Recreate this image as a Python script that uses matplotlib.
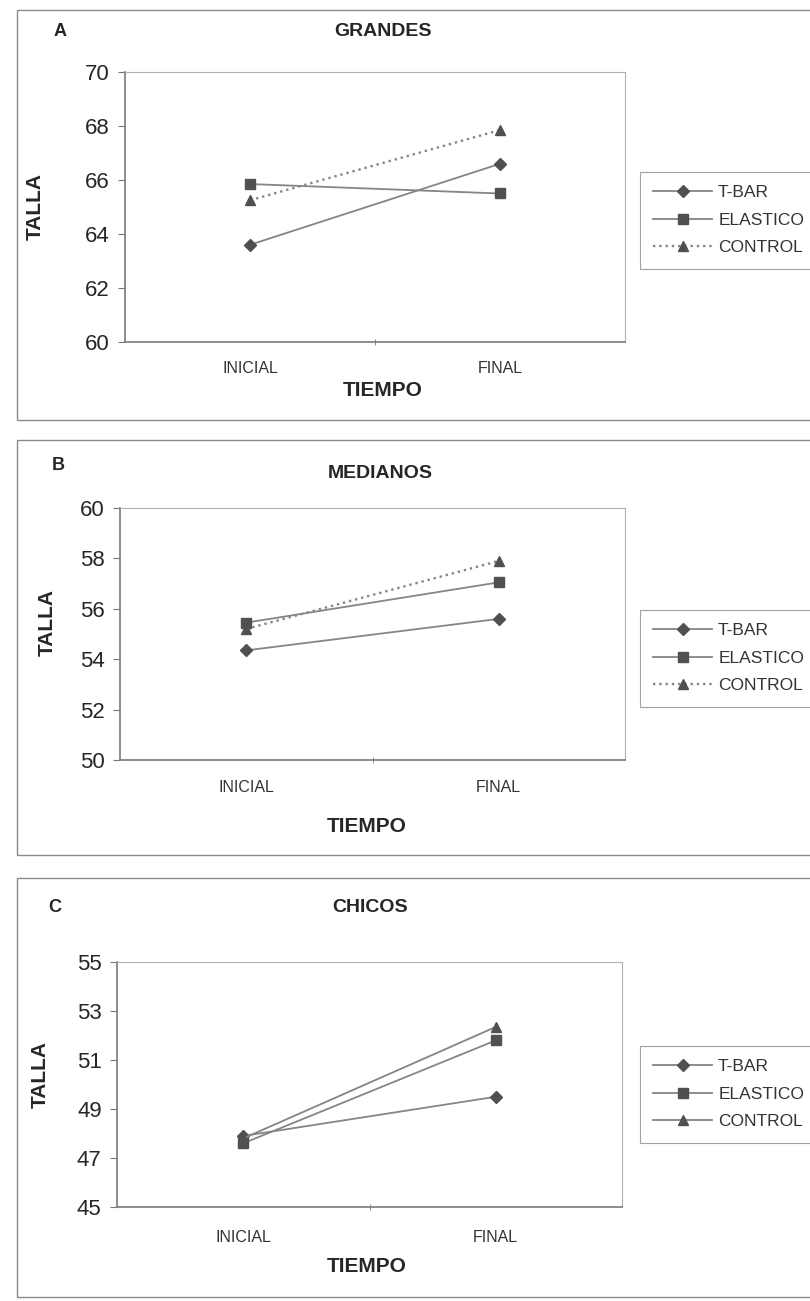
import matplotlib
matplotlib.use('Agg')
import matplotlib.pyplot as plt
from matplotlib.patches import Rectangle
from matplotlib.ticker import FixedLocator

plt.rcParams['font.family'] = ['Liberation Sans', 'DejaVu Sans']

# Data
tiempo = ['INICIAL', 'FINAL']
series_names = ['T-BAR', 'ELASTICO', 'CONTROL']

grandes_tbar = [63.6, 66.6]
grandes_elastico = [65.85, 65.5]
grandes_control = [65.25, 67.85]

medianos_tbar = [54.35, 55.6]
medianos_elastico = [55.45, 57.05]
medianos_control = [55.2, 57.9]

chicos_tbar = [47.9, 49.5]
chicos_elastico = [47.6, 51.8]
chicos_control = [47.8, 52.35]

panels = [
    dict(letter='A', title='GRANDES', ylim=(60, 70), step=2,
         values=[grandes_tbar, grandes_elastico, grandes_control], control_ls=':',
         box=(17, 10, 420), ax=(125, 72, 625, 342), legend_y=172,
         letter_xy=(60, 32), title_xy=(383, 32), talla_xy=(35, 207),
         xtick_y=368, tiempo=(383, 390)),
    dict(letter='B', title='MEDIANOS', ylim=(50, 60), step=2,
         values=[medianos_tbar, medianos_elastico, medianos_control], control_ls=':',
         box=(17, 440, 855), ax=(120, 508, 625, 760), legend_y=610,
         letter_xy=(58, 466), title_xy=(380, 473), talla_xy=(47, 622),
         xtick_y=788, tiempo=(367, 826)),
    dict(letter='C', title='CHICOS', ylim=(45, 55), step=2,
         values=[chicos_tbar, chicos_elastico, chicos_control], control_ls='-',
         box=(17, 878, 1297), ax=(117, 962, 622, 1207), legend_y=1046,
         letter_xy=(55, 908), title_xy=(370, 908), talla_xy=(40, 1075),
         xtick_y=1237, tiempo=(367, 1267)),
]

W, H = 810, 1301
fig = plt.figure(figsize=(W / 100, H / 100), dpi=100)
fig.patch.set_facecolor('white')


def fx(x):
    return x / W


def fy(y):
    return 1 - y / H


line_col = '#858585'
mark_col = '#505050'
markers = ['D', 's', '^']

for p in panels:
    # panel border (right side runs off the image)
    bx, btop, bbot = p['box']
    fig.patches.append(Rectangle((fx(bx), fy(bbot)), fx(W + 20 - bx), (bbot - btop) / H,
                                 transform=fig.transFigure, fill=False,
                                 edgecolor='#8a8a8a', linewidth=1.0))

    x0, y0, x1, y1 = p['ax']
    ax = fig.add_axes([fx(x0), fy(y1), fx(x1 - x0), (y1 - y0) / H])
    xs = list(range(len(tiempo)))
    handles = []
    for i, vals in enumerate(p['values']):
        ls = p['control_ls'] if i == 2 else '-'
        lw = 1.7 if ls == ':' else 1.3
        h, = ax.plot(xs, vals, linestyle=ls, linewidth=lw, color=line_col,
                     marker=markers[i], markersize=7 if i != 0 else 6.5,
                     markerfacecolor=mark_col, markeredgecolor=mark_col)
        handles.append(h)

    ax.set_xlim(-0.5, 1.5)
    ax.set_ylim(*p['ylim'])
    lo, hi = p['ylim']
    ax.set_yticks(list(range(lo, hi + 1, p['step'])))
    ax.set_xticks(xs)
    ax.set_xticklabels([])
    ax.xaxis.set_minor_locator(FixedLocator([0.5]))
    ax.tick_params(axis='x', which='major', length=0)
    ax.tick_params(axis='x', which='minor', length=5, direction='inout', color='#777777')
    ax.tick_params(axis='y', length=5, direction='out', color='#777777',
                   labelsize=16, labelcolor='#262626', pad=6)
    for s in ['left', 'bottom']:
        ax.spines[s].set_color('#7a7a7a')
        ax.spines[s].set_linewidth(1.2)
    for s in ['top', 'right']:
        ax.spines[s].set_color('#b0b0b0')
        ax.spines[s].set_linewidth(0.8)

    # category labels
    for xi, lab in zip(xs, tiempo):
        xd = ax.transData.transform((xi, 0))[0] / fig.dpi / fig.get_figwidth()
        fig.text(xd, fy(p['xtick_y']), lab, ha='center', va='center',
                 fontsize=11.5, color='#333333')

    fig.text(fx(p['tiempo'][0]), fy(p['tiempo'][1]), 'TIEMPO', ha='center', va='center',
             fontsize=15, fontweight='bold', color='#262626')
    fig.text(fx(p['talla_xy'][0]), fy(p['talla_xy'][1]), 'TALLA', ha='center', va='center',
             rotation=90, fontsize=15, fontweight='bold', color='#262626')
    fig.text(fx(p['letter_xy'][0]), fy(p['letter_xy'][1]), p['letter'], ha='center',
             va='center', fontsize=13, fontweight='bold', color='#262626')
    fig.text(fx(p['title_xy'][0]), fy(p['title_xy'][1]), p['title'], ha='center',
             va='center', fontsize=14, fontweight='bold', color='#262626')

    leg = fig.legend(handles, series_names, loc='upper left',
                     bbox_to_anchor=(fx(640), fy(p['legend_y'])), bbox_transform=fig.transFigure,
                     frameon=True, fancybox=False, fontsize=12.5, handlelength=3.4,
                     labelspacing=0.72, borderpad=0.75, handletextpad=0.35,
                     borderaxespad=0)
    leg.get_frame().set_edgecolor('#8a8a8a')
    leg.get_frame().set_linewidth(0.8)
    for t in leg.get_texts():
        t.set_color('#333333')

fig.savefig('out.png', dpi=100, facecolor='white')
